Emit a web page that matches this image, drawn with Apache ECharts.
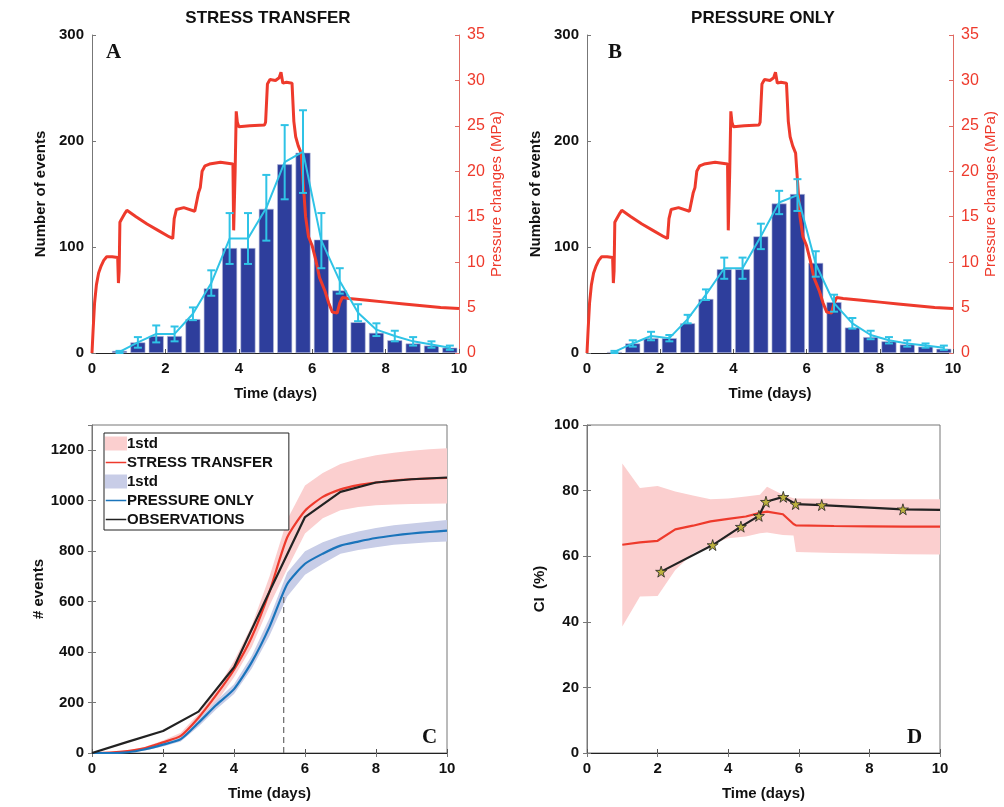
<!DOCTYPE html>
<html>
<head>
<meta charset="utf-8">
<script src="https://cdn.jsdelivr.net/npm/echarts@6/dist/echarts.min.js"></script>
<style>
  html, body { margin: 0; padding: 0; background: #fff; }
  #chart { width: 1004px; height: 807px; }
</style>
</head>
<body>
<div id="chart"></div>
<script>
// histogram bins (days) for panels A and B
var bins = [0.75, 1.25, 1.75, 2.25, 2.75, 3.25, 3.75, 4.25, 4.75, 5.25, 5.75, 6.25, 6.75, 7.25, 7.75, 8.25, 8.75, 9.25, 9.75];

// panel A - stress transfer
var barsA = [2, 10, 16, 16, 32, 61, 99, 99, 136, 178, 189, 107, 59, 29, 19, 12, 9, 7, 5];
var meanA = [1, 10, 18, 18, 37, 66, 108, 108, 137, 180, 190, 106, 68, 38, 22, 16, 11, 8, 5];
var errA = [1, 5, 8, 7, 6, 12, 24, 24, 31, 35, 39, 26, 12, 8, 6, 5, 4, 3, 2];

// panel B - pressure only
var barsB = [1, 9, 14, 14, 28, 51, 79, 79, 110, 141, 150, 85, 48, 24, 15, 11, 8, 6, 4];
var meanB = [1, 9, 16, 14, 32, 55, 80, 80, 110, 142, 149, 84, 47, 28, 17, 12, 9, 7, 5];
var errB = [1, 3, 4, 3, 4, 5, 10, 10, 12, 11, 15, 12, 8, 5, 4, 3, 3, 2, 2];

// injection pressure (MPa), same in A and B
var pressT = [0, 0.03, 0.07, 0.12, 0.18, 0.25, 0.32, 0.4, 0.55, 0.7, 0.72, 0.74, 0.76, 0.8, 0.85, 0.9, 0.95, 1.2, 1.5, 1.8,
    2.1, 2.2, 2.24, 2.3, 2.5, 2.8, 2.85, 2.9, 2.95, 3.0, 3.08, 3.2, 3.5, 3.84, 3.86, 3.9, 3.93, 3.96, 4.0, 4.3,
    4.7, 4.73, 4.78, 4.85, 5.0, 5.1, 5.15, 5.2, 5.3, 5.45, 5.5, 5.55, 5.62, 5.7, 5.75, 5.82, 5.9, 6.0, 6.1, 6.2,
    6.35, 6.45, 6.55, 6.68, 6.75, 6.82, 7.0, 7.5, 8.0, 8.5, 9.0, 9.5, 10];
var pressMPa = [0, 2.5, 5.5, 7.5, 8.8, 9.6, 10.2, 10.6, 10.6, 10.5, 7.7, 9.0, 14.4, 14.7, 14.6, 15.4, 15.7, 15.0, 14.2, 13.5,
    12.8, 12.6, 14.8, 15.8, 16.0, 15.6, 15.8, 17.6, 18.2, 20.0, 20.6, 20.8, 21.0, 20.8, 13.5, 20.0, 26.6, 25.4, 24.9, 25.0,
    25.1, 25.4, 29.6, 30.1, 30.0, 30.3, 30.9, 29.7, 29.8, 29.7, 25.5, 23.8, 22.8, 22.0, 19.0, 15.0, 12.8, 11.8, 10.2, 8.3,
    6.8, 5.5, 4.5, 4.4, 5.5, 6.1, 6.0, 5.8, 5.6, 5.4, 5.2, 5.0, 4.9];

// panel C - cumulative events
var tC = [0, 0.5, 1, 1.5, 2, 2.5, 3, 3.5, 4, 4.5, 5, 5.5, 6, 6.5, 7, 7.5, 8, 8.5, 9, 9.5, 10];
var stC = [0, 2, 8, 20, 42, 68, 140, 230, 330, 460, 640, 855, 960, 1015, 1045, 1062, 1072, 1080, 1085, 1088, 1090];
var stUp = [0, 3, 10, 25, 50, 80, 155, 250, 365, 505, 700, 925, 1060, 1110, 1145, 1165, 1180, 1190, 1198, 1204, 1208];
var stLo = [0, 1, 6, 15, 35, 58, 120, 200, 300, 420, 585, 730, 870, 930, 962, 975, 982, 985, 987, 988, 989];
var poC = [0, 0, 3, 15, 33, 55, 120, 190, 253, 360, 500, 670, 750, 790, 822, 838, 852, 862, 870, 876, 881];
var poUp = [0, 2, 6, 20, 40, 64, 135, 207, 272, 385, 535, 715, 800, 835, 860, 878, 892, 903, 910, 917, 923];
var poLo = [0, 0, 1, 10, 26, 46, 105, 173, 234, 335, 465, 620, 706, 750, 790, 805, 815, 825, 830, 835, 838];
var obsT = [0, 1, 2, 3, 4, 5, 6, 7, 8, 9, 10];
var obsC = [0, 44, 87, 164, 340, 640, 935, 1035, 1072, 1085, 1092];
var cutDay = 5.4;

// panel D - CI (%)
var tD = [1, 1.5, 2, 2.5, 3, 3.5, 4, 4.5, 4.9, 5.1, 5.55, 5.85, 5.92, 7, 8, 9, 10];
var ciST = [63.5, 64.2, 64.7, 68.2, 69.3, 70.6, 71.4, 72.1, 73.2, 73.6, 72.8, 69.8, 69.4, 69.2, 69.1, 69.0, 69.0];
var ciUp = [88.3, 80.8, 81.4, 79.7, 78.5, 77.4, 77.6, 78.2, 78.7, 81.2, 78.7, 77.7, 77.6, 77.5, 77.4, 77.4, 77.4];
var ciLo = [38.6, 47.7, 47.9, 55.8, 60.8, 63.5, 65.5, 66.0, 67.0, 67.2, 66.5, 66.3, 61.3, 61.0, 60.8, 60.6, 60.5];
var ciObsT = [2.1, 3.56, 4.36, 4.87, 5.07, 5.56, 5.91, 6.65, 8.95, 10];
var ciObs = [55.3, 63.4, 69.0, 72.3, 76.6, 78.1, 75.9, 75.6, 74.3, 74.1];

var RED = '#ee3a2c';
var CYAN = '#2fc3e6';
var NAVY = '#2e3e9c';
var PINK = '#fbcfcf';
var LAV = '#c8cde7';
var BLUE = '#1a74bb';
var FONT = '"Liberation Sans", Arial, sans-serif';
// thin line icon for the legend (tiny corner dots keep the box height)
var LINE_ICON = 'path://M0,0 L0.1,0 L0.1,0.1 Z M0,6.6 L22,6.6 L22,8.4 L0,8.4 Z M0,14.9 L0.1,14.9 L0.1,15 Z';

function pairs(xs, ys) {
    var out = [];
    for (var i = 0; i < xs.length; i++) out.push([xs[i], ys[i]]);
    return out;
}
function triples(xs, lo, hi) {
    var out = [];
    for (var i = 0; i < xs.length; i++) out.push([xs[i], lo[i], hi[i]]);
    return out;
}
function errData(mean, err) {
    var out = [];
    for (var i = 0; i < bins.length; i++) out.push([bins[i], mean[i] - err[i], mean[i] + err[i]]);
    return out;
}

function renderErr(params, api) {
    var x = api.value(0);
    var top = api.coord([x, api.value(2)]);
    var bot = api.coord([x, api.value(1)]);
    var w = 4;
    var st = { stroke: CYAN, lineWidth: 2 };
    return {
        type: 'group',
        children: [
            { type: 'line', shape: { x1: top[0], y1: top[1], x2: bot[0], y2: bot[1] }, style: st },
            { type: 'line', shape: { x1: top[0] - w, y1: top[1], x2: top[0] + w, y2: top[1] }, style: st },
            { type: 'line', shape: { x1: bot[0] - w, y1: bot[1], x2: bot[0] + w, y2: bot[1] }, style: st }
        ]
    };
}

// whole band drawn once, from the first item
function renderBand(params, api) {
    if (params.dataIndexInside !== 0) return;
    var n = params.dataInsideLength;
    var pts = [];
    for (var j = 0; j < n; j++) pts.push(api.coord([api.value(0, j), api.value(2, j)]));
    for (var k = n - 1; k >= 0; k--) pts.push(api.coord([api.value(0, k), api.value(1, k)]));
    return { type: 'polygon', shape: { points: pts }, style: { fill: api.visual('color') } };
}

var labelStyle = { color: '#111', fontWeight: 'bold', fontSize: 15, fontFamily: FONT };
var nameStyle = { color: '#111', fontWeight: 'bold', fontSize: 15, fontFamily: FONT };

function timeAxis(grid) {
    return {
        type: 'value', gridIndex: grid, min: 0, max: 10, interval: 2,
        name: 'Time (days)', nameLocation: 'middle', nameGap: 33, nameTextStyle: nameStyle,
        axisLine: { lineStyle: { color: '#222' } },
        axisTick: { inside: true, length: 4, lineStyle: { color: '#555' } },
        axisLabel: labelStyle, splitLine: { show: false }
    };
}
function leftAxis(grid, max, step, name, gap) {
    return {
        type: 'value', gridIndex: grid, position: 'left', min: 0, max: max, interval: step,
        name: name, nameLocation: 'middle', nameGap: gap, nameTextStyle: nameStyle,
        axisLine: { show: true, lineStyle: { color: '#777' } },
        axisTick: { show: true, inside: true, length: 4, lineStyle: { color: '#777' } },
        axisLabel: Object.assign({
            showMaxLabel: max % step === 0,
            formatter: function (v) { return String(v); }
        }, labelStyle),
        splitLine: { show: false }
    };
}
function pressAxis(grid) {
    return {
        type: 'value', gridIndex: grid, position: 'right', min: 0, max: 35, interval: 5,
        name: 'Pressure changes (MPa)', nameLocation: 'middle', nameGap: 30,
        nameTextStyle: { color: RED, fontSize: 15, fontFamily: FONT },
        axisLine: { show: true, lineStyle: { color: '#e06a62' } },
        axisTick: { show: true, inside: true, length: 4, lineStyle: { color: '#e06a62' } },
        axisLabel: { color: RED, fontSize: 16, fontFamily: FONT },
        splitLine: { show: false }
    };
}
function boxX(grid) {
    return {
        type: 'value', gridIndex: grid, position: 'top', min: 0, max: 10, interval: 2,
        axisLine: { show: false }, axisLabel: { show: false }, splitLine: { show: false },
        axisTick: { inside: true, length: 4, lineStyle: { color: '#777' } }
    };
}
function boxY(grid, max, step) {
    return {
        type: 'value', gridIndex: grid, position: 'right', min: 0, max: max, interval: step,
        axisLine: { show: false }, axisLabel: { show: false }, splitLine: { show: false },
        axisTick: { show: true, inside: true, length: 4, lineStyle: { color: '#777' } }
    };
}

function histSeries(xi, yi, yr, bars, mean, err) {
    return [
        {
            type: 'bar', xAxisIndex: xi, yAxisIndex: yi, barWidth: 15,
            itemStyle: { color: NAVY, borderColor: '#b9bfdc', borderWidth: 0.6 },
            data: pairs(bins, bars), z: 2
        },
        {
            type: 'line', xAxisIndex: xi, yAxisIndex: yr, symbol: 'none',
            lineStyle: { color: RED, width: 3 }, data: pairs(pressT, pressMPa), z: 3
        },
        {
            type: 'line', xAxisIndex: xi, yAxisIndex: yi, symbol: 'none',
            lineStyle: { color: CYAN, width: 2 }, data: pairs(bins, mean), z: 4
        },
        {
            type: 'custom', xAxisIndex: xi, yAxisIndex: yi, renderItem: renderErr,
            encode: { x: 0, y: [1, 2] }, data: errData(mean, err), z: 5
        }
    ];
}

function band(name, xi, yi, xs, lo, hi, color) {
    return {
        name: name, type: 'custom', xAxisIndex: xi, yAxisIndex: yi, renderItem: renderBand,
        itemStyle: { color: color }, encode: { x: 0, y: [1, 2] }, data: triples(xs, lo, hi), z: 1
    };
}

var STAR = 'path://M50,0 L61,35 L98,35 L68,57 L79,91 L50,70 L21,91 L32,57 L2,35 L39,35 Z';
var starData = [];
for (var i = 0; i < ciObsT.length; i++) {
    var item = { value: [ciObsT[i], ciObs[i]] };
    if (i === ciObsT.length - 1) item.symbol = 'none';
    starData.push(item);
}

var series = []
    .concat(histSeries(0, 0, 1, barsA, meanA, errA))
    .concat(histSeries(1, 2, 3, barsB, meanB, errB))
    .concat([
        band('1std', 2, 4, tC, stLo, stUp, PINK),
        band('1std ', 2, 4, tC, poLo, poUp, LAV),
        {
            name: 'cut', type: 'line', xAxisIndex: 2, yAxisIndex: 4, symbol: 'none',
            lineStyle: { color: '#666', width: 1.2, type: [6, 4] },
            data: [[cutDay, 0], [cutDay, 620]], z: 2
        },
        {
            name: 'STRESS TRANSFER', type: 'line', xAxisIndex: 2, yAxisIndex: 4, symbol: 'none',
            smooth: 0.2, itemStyle: { color: RED }, lineStyle: { color: RED, width: 2.2 }, data: pairs(tC, stC), z: 3
        },
        {
            name: 'PRESSURE ONLY', type: 'line', xAxisIndex: 2, yAxisIndex: 4, symbol: 'none',
            smooth: 0.2, itemStyle: { color: BLUE }, lineStyle: { color: BLUE, width: 2.2 }, data: pairs(tC, poC), z: 3
        },
        {
            name: 'OBSERVATIONS', type: 'line', xAxisIndex: 2, yAxisIndex: 4, symbol: 'none',
            itemStyle: { color: '#222' }, lineStyle: { color: '#222', width: 2.2 }, data: pairs(obsT, obsC), z: 4
        },
        band('ciBand', 3, 5, tD, ciLo, ciUp, PINK),
        {
            name: 'ciST', type: 'line', xAxisIndex: 3, yAxisIndex: 5, symbol: 'none',
            lineStyle: { color: RED, width: 2.2 }, data: pairs(tD, ciST), z: 3
        },
        {
            name: 'ciObs', type: 'line', xAxisIndex: 3, yAxisIndex: 5, symbol: STAR, symbolSize: 11,
            itemStyle: { color: '#bdb13e', borderColor: '#222', borderWidth: 0.8 },
            lineStyle: { color: '#222', width: 2.2 }, data: starData, z: 4
        }
    ]);

function letter(txt, x, y) {
    return {
        type: 'text', x: x, y: y, z: 10,
        style: { text: txt, font: 'bold 21px "Liberation Serif", "DejaVu Serif", serif', fill: '#111' }
    };
}
function heading(txt, x) {
    return {
        type: 'text', x: x, y: 10, z: 10,
        style: { text: txt, font: 'bold 17px ' + FONT, fill: '#111', align: 'center' }
    };
}

var chart = echarts.init(document.getElementById('chart'));
chart.setOption({
    animation: false,
    backgroundColor: '#fff',
    grid: [
        { left: 92, top: 35, width: 367, height: 318 },
        { left: 587, top: 35, width: 366, height: 318 },
        { left: 92, top: 425, width: 355, height: 328, show: true, borderColor: '#777', borderWidth: 1 },
        { left: 587, top: 425, width: 353, height: 328, show: true, borderColor: '#777', borderWidth: 1 }
    ],
    xAxis: [timeAxis(0), timeAxis(1), timeAxis(2), timeAxis(3), boxX(2), boxX(3)],
    yAxis: [
        leftAxis(0, 300, 100, 'Number of events', 44),
        pressAxis(0),
        leftAxis(1, 300, 100, 'Number of events', 44),
        pressAxis(1),
        leftAxis(2, 1300, 200, '# events', 46),
        leftAxis(3, 100, 20, 'CI  (%)', 40),
        boxY(2, 1300, 200),
        boxY(3, 100, 20)
    ],
    legend: {
        left: 104, top: 433, orient: 'vertical', selectedMode: false,
        backgroundColor: '#fff', borderColor: '#222', borderWidth: 1,
        padding: [3, 16, 3, 1], itemGap: 4, itemWidth: 22, itemHeight: 14,
        textStyle: { color: '#111', fontWeight: 'bold', fontSize: 15, fontFamily: FONT, padding: [0, 0, 0, -5] },
        data: [
            { name: '1std', icon: 'rect', itemStyle: { color: PINK } },
            { name: 'STRESS TRANSFER', icon: LINE_ICON, itemStyle: { color: RED } },
            { name: '1std ', icon: 'rect', itemStyle: { color: LAV } },
            { name: 'PRESSURE ONLY', icon: LINE_ICON, itemStyle: { color: BLUE } },
            { name: 'OBSERVATIONS', icon: LINE_ICON, itemStyle: { color: '#222' } }
        ]
    },
    graphic: [
        heading('STRESS TRANSFER', 268),
        heading('PRESSURE ONLY', 763),
        letter('A', 106, 42),
        letter('B', 608, 42),
        letter('C', 422, 727),
        letter('D', 907, 727)
    ],
    series: series
});
</script>
</body>
</html>
